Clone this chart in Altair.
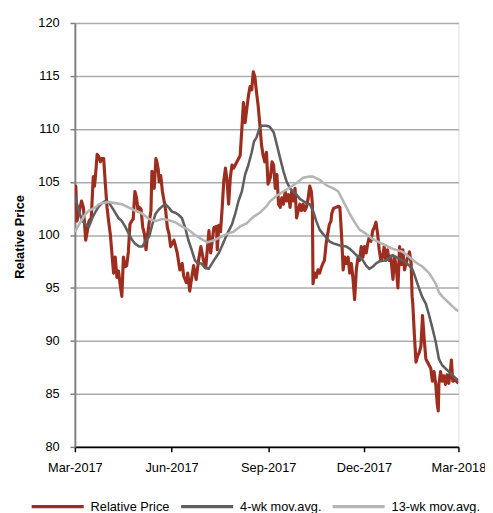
import altair as alt
import pandas as pd

# ---- data (days since 2017-03-01, value) ----
price_days = [0.0, 0.9, 1.9, 4.0, 6.3, 8.1, 10.3, 11.9, 13.4, 15.6, 17.5, 18.7, 19.7, 21.2, 22.7, 24.3, 25.3, 27.4,
              29.0, 30.6, 32.1, 33.7, 35.3, 36.8, 38.4, 40.0, 41.5, 43.1, 44.7, 46.2, 47.8, 49.3, 50.9, 52.4, 54.0,
              55.5, 57.1, 58.7, 60.2, 61.5, 63.0, 64.6, 66.2, 67.7, 69.3, 70.9, 72.4, 73.3, 74.6, 75.5, 77.1, 78.0,
              79.3, 80.2, 81.7, 83.3, 84.9, 86.4, 88.0, 89.6, 91.1, 94.3, 97.4, 99.9, 102.1, 103.6, 106.1, 107.4,
              109.3, 111.4, 113.0, 115.4, 117.7, 119.9, 122.4, 124.5, 127.6, 129.2, 132.3, 134.8, 135.5, 137.0,
              138.6, 140.2, 141.7, 143.3, 144.9, 146.3, 147.9, 149.5, 151.0, 154.2, 157.3, 158.9, 160.4, 162.0,
              163.6, 165.1, 166.7, 168.3, 169.8, 171.3, 172.9, 174.4, 176.0, 177.6, 179.1, 180.7, 182.3, 183.8,
              186.0, 187.6, 189.1, 190.7, 192.3, 193.8, 195.4, 196.9, 198.5, 200.1, 201.6, 203.2, 204.8, 206.3,
              207.9, 209.5, 211.0, 212.5, 214.1, 215.6, 217.2, 218.8, 220.3, 221.9, 223.5, 225.0, 226.0, 226.6,
              228.2, 229.7, 231.3, 232.9, 234.4, 236.0, 237.5, 239.1, 240.6, 242.2, 243.7, 244.4, 246.0, 248.4,
              250.7, 252.2, 253.7, 255.3, 256.8, 258.4, 260.0, 261.5, 263.1, 264.7, 266.2, 267.8, 269.4, 270.9,
              272.5, 274.1, 275.6, 277.2, 278.7, 280.2, 281.8, 283.4, 284.9, 286.5, 288.1, 289.6, 291.2, 292.8,
              294.3, 295.9, 297.5, 299.0, 300.6, 302.7, 304.3, 305.9, 307.4, 309.0, 310.6, 312.1, 313.7, 315.3,
              316.8, 318.4, 320.0, 320.9, 321.5, 323.1, 324.6, 326.2, 327.7, 329.3, 330.8, 332.4, 334.0, 335.5,
              337.1, 338.7, 340.2, 341.8, 343.4, 344.9, 345.8, 346.4, 348.0, 349.5, 351.1, 352.7, 354.2, 355.8,
              357.3, 358.3, 359.6, 362.1, 365.0]
price_vals = [102.8, 104.6, 101.3, 102.1, 103.2, 102.6, 99.5, 100.4, 101.3, 101.6, 105.5, 104.6, 105.7, 107.6, 107.4,
              106.9, 107.2, 107.2, 104.8, 102.6, 101.3, 100.1, 98.2, 96.4, 97.9, 96.0, 96.6, 95.3, 94.2, 97.9, 97.0,
              97.1, 98.4, 101.0, 101.3, 101.5, 104.1, 103.5, 102.2, 102.6, 102.4, 100.7, 100.1, 98.6, 100.1, 101.3,
              102.3, 106.0, 105.6, 104.4, 107.2, 106.9, 106.2, 105.0, 105.6, 104.1, 103.2, 102.3, 100.7, 100.1, 98.9,
              99.5, 98.3, 96.7, 97.3, 96.1, 95.5, 96.4, 94.7, 96.1, 97.1, 95.8, 97.6, 98.9, 97.6, 96.9, 100.4, 98.3,
              100.7, 100.8, 98.6, 100.9, 100.3, 102.6, 105.1, 106.3, 105.0, 102.9, 105.4, 106.6, 106.3, 106.9, 107.5,
              110.0, 112.5, 110.6, 111.9, 113.1, 114.0, 113.7, 115.4, 114.9, 113.4, 112.2, 110.4, 108.5, 107.5,
              106.9, 107.8, 104.8, 105.4, 106.9, 106.6, 104.4, 105.7, 102.9, 102.6, 103.5, 102.9, 104.1, 103.2,
              103.8, 102.6, 104.1, 103.2, 104.4, 101.6, 102.3, 102.9, 102.3, 102.9, 102.3, 102.6, 103.4, 104.6,
              104.1, 102.9, 95.4, 96.4, 96.0, 96.7, 96.4, 96.9, 97.3, 97.6, 99.2, 100.1, 101.0, 101.3, 102.0, 102.5,
              102.6, 102.7, 102.6, 100.1, 96.7, 97.9, 97.3, 97.9, 96.4, 97.3, 95.8, 93.9, 96.7, 97.9, 97.6, 98.9,
              97.9, 98.9, 98.3, 99.2, 99.8, 99.4, 100.4, 100.7, 101.2, 100.1, 98.6, 97.6, 97.9, 98.9, 97.6, 98.6,
              97.6, 98.0, 95.8, 97.9, 96.9, 95.0, 98.9, 97.2, 98.6, 96.7, 97.4, 97.9, 98.4, 97.3, 94.2, 93.6, 90.5,
              88.0, 88.6, 88.9, 89.5, 92.4, 90.2, 88.3, 88.0, 87.7, 87.4, 86.2, 87.1, 85.9, 84.0, 83.4, 85.9, 87.1,
              86.2, 86.7, 85.9, 86.8, 86.0, 87.1, 88.2, 86.2, 86.3, 86.0]

ma4_days = [0.0, 4.0, 7.2, 10.3, 13.4, 16.6, 19.7, 22.8, 25.9, 29.0, 32.1, 35.3, 38.4, 41.5, 44.7, 47.8, 50.9, 54.0,
            57.1, 61.1, 64.3, 67.4, 70.5, 73.7, 76.8, 79.9, 83.1, 86.1, 89.2, 92.4, 95.5, 98.6, 101.8, 104.9, 108.0,
            111.1, 114.2, 117.3, 120.5, 123.6, 127.3, 132.3, 137.0, 140.2, 144.9, 149.5, 152.6, 155.7, 158.9, 162.0,
            165.1, 168.3, 170.4, 172.9, 175.4, 177.6, 182.3, 185.4, 189.1, 190.7, 192.2, 195.4, 198.5, 201.6, 204.8,
            207.9, 211.0, 214.1, 217.2, 220.3, 223.5, 226.6, 229.7, 232.9, 236.0, 239.0, 242.2, 246.0, 252.2, 258.4,
            261.5, 264.7, 267.8, 270.9, 274.1, 277.2, 280.2, 283.4, 286.5, 289.6, 295.9, 299.0, 302.2, 305.9, 312.1,
            318.4, 321.5, 324.6, 327.7, 330.8, 334.0, 337.1, 340.2, 343.4, 346.4, 349.5, 352.7, 355.8, 358.9, 362.1,
            365.0]
ma4_vals = [103.7, 102.2, 101.3, 101.0, 100.8, 101.6, 102.2, 102.7, 103.0, 103.2, 103.1, 102.6, 102.1, 101.6, 101.3,
            100.8, 100.2, 99.6, 99.2, 98.9, 98.9, 99.5, 99.8, 101.0, 102.0, 102.4, 102.7, 102.9, 102.6, 102.2, 102.1,
            101.9, 101.6, 100.7, 99.5, 98.6, 97.6, 97.3, 97.3, 96.9, 96.8, 97.6, 98.3, 99.0, 100.1, 101.0, 102.0,
            103.2, 104.1, 105.7, 106.6, 107.8, 108.8, 109.2, 110.0, 110.3, 110.3, 110.2, 109.7, 109.1, 108.5, 107.2,
            106.0, 105.0, 104.4, 104.1, 103.8, 103.4, 103.2, 103.0, 102.9, 102.3, 101.3, 100.5, 100.1, 99.8, 99.4,
            99.2, 99.0, 98.9, 98.7, 98.4, 98.1, 97.9, 97.6, 97.1, 96.8, 97.0, 97.3, 97.5, 97.6, 97.8, 98.1, 97.9,
            97.6, 97.1, 96.7, 95.8, 94.9, 94.1, 93.5, 92.4, 91.2, 89.9, 88.3, 87.7, 87.4, 87.1, 86.8, 86.5, 86.3]

ma13_days = [0.0, 4.0, 7.2, 10.3, 13.4, 19.7, 22.8, 25.9, 32.1, 38.4, 44.7, 50.9, 57.1, 60.2, 64.3, 70.5, 76.8,
             83.1, 89.2, 95.5, 101.8, 108.0, 114.2, 120.5, 126.1, 132.3, 138.6, 144.9, 151.0, 157.3, 163.6, 169.8,
             176.0, 182.3, 186.0, 192.2, 198.5, 204.8, 211.0, 217.2, 221.9, 226.6, 232.9, 239.0, 246.0, 250.7,
             253.7, 256.8, 261.5, 266.2, 270.9, 277.2, 283.4, 289.6, 295.9, 302.2, 312.1, 318.4, 324.6, 330.8,
             337.1, 343.4, 346.4, 349.5, 352.7, 355.8, 358.9, 362.1, 365.0]
ma13_vals = [100.3, 101.0, 101.5, 102.0, 102.3, 102.6, 102.9, 103.0, 103.1, 103.0, 102.9, 102.6, 102.3, 102.2,
             102.0, 101.5, 101.3, 101.5, 101.4, 101.2, 100.8, 100.5, 100.0, 99.6, 99.3, 99.5, 99.8, 100.1, 100.3,
             100.8, 101.1, 101.7, 102.1, 102.7, 103.2, 103.7, 104.1, 104.5, 104.9, 105.4, 105.5, 105.5, 105.2,
             104.7, 104.4, 104.1, 103.5, 102.9, 102.0, 101.2, 100.5, 100.1, 99.6, 99.3, 99.0, 98.7, 98.4, 97.9,
             97.4, 97.0, 96.4, 95.4, 94.6, 94.2, 93.9, 93.6, 93.3, 93.0, 92.8]

series_names = ["Relative Price", "4-wk mov.avg.", "13-wk mov.avg."]
series_colors = ["#9d2e1f", "#5f5f5f", "#b5b5b5"]
y_ticks = [80, 85, 90, 95, 100, 105, 110, 115, 120]

start = pd.Timestamp("2017-03-01")


def frame(days, vals, name):
    return pd.DataFrame({
        "date": start + pd.to_timedelta(days, unit="D"),
        "value": vals,
        "series": name,
    })


df_p = frame(price_days, price_vals, series_names[0])
df_4 = frame(ma4_days, ma4_vals, series_names[1])
df_13 = frame(ma13_days, ma13_vals, series_names[2])

FONT = "Liberation Sans, Arial, sans-serif"
FS = 13

x_enc = alt.X(
    "date:T",
    scale=alt.Scale(domain=[alt.DateTime(year=2017, month=3, date=1),
                            alt.DateTime(year=2018, month=3, date=1)]),
    axis=alt.Axis(
        values=[alt.DateTime(year=2017, month=3, date=1), alt.DateTime(year=2017, month=6, date=1),
                alt.DateTime(year=2017, month=9, date=1), alt.DateTime(year=2017, month=12, date=1),
                alt.DateTime(year=2018, month=3, date=1)],
        format="%b-%Y", title=None, grid=False,
        domainColor="#000000", domainWidth=2, tickColor="#000000", tickWidth=1.5, tickSize=5,
        labelFont=FONT, labelFontSize=FS, labelColor="#000000", labelPadding=10, labelFlush=False,
        labelOverlap=False,
    ),
)
y_enc = alt.Y(
    "value:Q",
    scale=alt.Scale(domain=[80, 120], nice=False, zero=False),
    axis=alt.Axis(
        values=y_ticks, title="Relative Price", grid=True, gridColor="#ababab", gridWidth=1.5,
        domainColor="#808080", domainWidth=2, tickColor="#808080", tickWidth=1.5, tickSize=5,
        labelFont=FONT, labelFontSize=FS, labelColor="#000000", labelPadding=11,
        titleFont="Liberation Sans", titleFontSize=13, titleFontWeight="bold", titleColor="#000000",
        titleAngle=270, titleX=-56, titleY=217, titleAlign="center", titleBaseline="middle",
    ),
)
color_enc = alt.Color(
    "series:N",
    scale=alt.Scale(domain=series_names, range=series_colors),
    legend=alt.Legend(
        title=None, orient="none", legendX=-46, legendY=463, direction="horizontal",
        symbolType="stroke", symbolSize=2800, symbolStrokeWidth=3.5, labelFont=FONT, labelFontSize=FS,
        labelColor="#000000", labelOffset=5, columnPadding=4,
    ),
)

widths = [3.2, 2.6, 2.6]
layers = []
for d, w in zip([df_p, df_4, df_13], widths):
    layers.append(
        alt.Chart(d).mark_line(strokeWidth=w, strokeJoin="round", clip=True).encode(
            x=x_enc, y=y_enc, color=color_enc
        )
    )

chart = alt.layer(*layers).properties(
    width=390, height=431,
    autosize=alt.AutoSizeParams(type="none"),
    padding={"left": 68, "top": 11, "right": 27, "bottom": 63},
).configure_view(stroke="#c0c0c0", strokeWidth=2).configure(background="#ffffff")

chart.save("out.html", embed_options={"renderer": "svg", "actions": False})
